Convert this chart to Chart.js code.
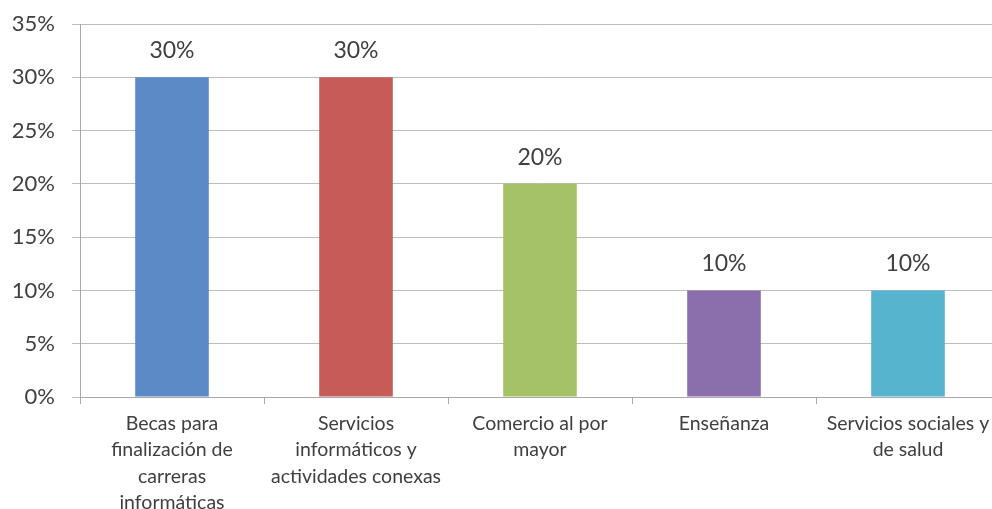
<!DOCTYPE html>
<html>
<head>
<meta charset="utf-8">
<script src="https://cdn.jsdelivr.net/npm/chart.js@4/dist/chart.umd.min.js"></script>
<style>
html,body{margin:0;padding:0;background:#fff;overflow:hidden;}
#wrap{position:relative;width:1000px;height:509px;}
</style>
</head>
<body>
<div id="wrap"><canvas id="c"></canvas></div>
<script>
const categories = [
  ["Becas para", "finalización de", "carreras", "informáticas"],
  ["Servicios", "informáticos y", "actividades conexas"],
  ["Comercio al por", "mayor"],
  ["Enseñanza"],
  ["Servicios sociales y", "de salud"]
];
const values = [30, 30, 20, 10, 10];
const barColors = ["#5B8AC6", "#C65B58", "#A5C366", "#8B6FAD", "#57B4CE"];
const yTickStep = 5;
const yMax = 35;

const textColor = "#404040";
const fontFamily = "Lato, 'Liberation Sans', sans-serif";

const dataLabels = {
  id: "dataLabels",
  afterDatasetsDraw(chart) {
    const ctx = chart.ctx;
    const meta = chart.getDatasetMeta(0);
    ctx.save();
    ctx.font = "23px " + fontFamily;
    ctx.fillStyle = textColor;
    ctx.textAlign = "center";
    ctx.textBaseline = "bottom";
    meta.data.forEach((bar, i) => {
      ctx.fillText(values[i] + "%", bar.x, bar.y - 15);
    });
    ctx.restore();
  }
};

new Chart(document.getElementById("c"), {
  type: "bar",
  data: {
    labels: categories,
    datasets: [{
      data: values,
      backgroundColor: barColors,
      borderWidth: 0,
      barPercentage: 0.4,
      categoryPercentage: 1.0
    }]
  },
  options: {
    responsive: true,
    maintainAspectRatio: false,
    animation: false,
    layout: { padding: { top: 24, right: 0, left: 0, bottom: 0 } },
    plugins: { legend: { display: false }, tooltip: { enabled: false } },
    scales: {
      x: {
        grid: {
          display: true,
          drawOnChartArea: false,
          drawTicks: true,
          tickLength: 7,
          color: "#a8a8a8",
          offset: true
        },
        border: { display: true, color: "#a8a8a8", width: 1 },
        ticks: {
          color: textColor,
          font: { family: fontFamily, size: 19.5, lineHeight: 1.36 },
          padding: 6,
          maxRotation: 0,
          autoSkip: false
        },
        afterFit(scale) { scale.height = 112; scale.paddingLeft = 0; scale.paddingRight = 0; }
      },
      y: {
        min: 0,
        max: yMax,
        grid: {
          color: "#bcbcbc",
          drawTicks: true,
          tickLength: 8,
          lineWidth: 1
        },
        border: { display: true, color: "#a8a8a8", width: 1 },
        ticks: {
          stepSize: yTickStep,
          color: textColor,
          font: { family: fontFamily, size: 22 },
          padding: 17,
          callback: (v) => v + "%"
        },
        afterFit(scale) { scale.width = 80; scale.paddingTop = 0; scale.paddingBottom = 0; }
      }
    }
  },
  plugins: [dataLabels]
});
</script>
</body>
</html>
